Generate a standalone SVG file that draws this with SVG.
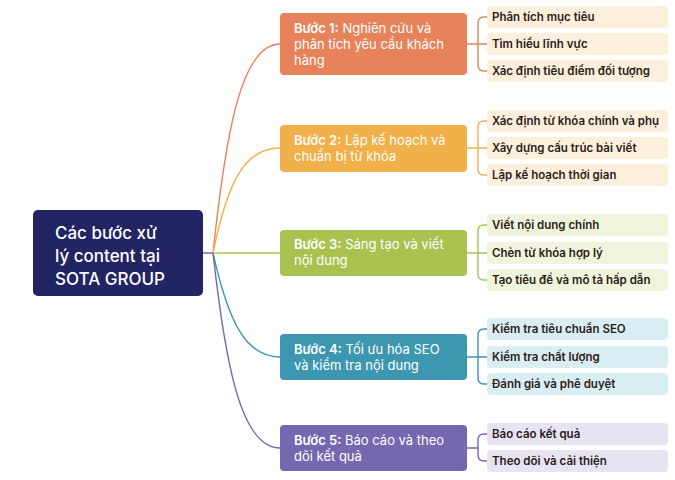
<svg xmlns="http://www.w3.org/2000/svg" width="675" height="480" viewBox="0 0 675 480">
<style>
text{font-family:"Inter","Liberation Sans",sans-serif}
.st{fill:#fff;font-size:13px}
.st tspan.b{font-weight:600}
.lf{fill:#2b2018;font-size:11.5px;font-weight:600}
.c{fill:none;stroke-width:1.4}
</style>
<rect width="675" height="480" fill="#fff"/>
<g id="connectors">
<path class="c" stroke="#6a62b5" d="M203 253H213"/>
<path class="c" stroke="#E8825B" d="M213 253C225 140 240 44 280 44"/>
<path class="c" stroke="#F2B04A" d="M213 253C228 180 245 148 280 148"/>
<path class="c" stroke="#A9C24F" d="M213 253H280"/>
<path class="c" stroke="#3D97B0" d="M213 253C228 320 245 357 280 357"/>
<path class="c" stroke="#7567B0" d="M213 253C225 360 240 448 280 448"/>
<path class="c" stroke="#E8825B" d="M467 44H478M487 17H484Q478 17 478 23V65Q478 71 484 71H487M478 44H487"/>
<path class="c" stroke="#F2B04A" d="M467 148H478M487 121H484Q478 121 478 127V169Q478 175 484 175H487M478 148H487"/>
<path class="c" stroke="#A9C24F" d="M467 253H478M487 225H484Q478 225 478 231V274Q478 280 484 280H487M478 253H487"/>
<path class="c" stroke="#3D97B0" d="M467 357H478M487 329H484Q478 329 478 335V378Q478 384 484 384H487M478 357H487"/>
<path class="c" stroke="#7567B0" d="M467 448H478M487 434H484Q478 434 478 440V455Q478 461 484 461H487"/>
</g>
<g id="root"><rect x="33" y="210" width="170" height="86" rx="5" fill="#232463"/>
<text fill="#fff" font-size="17" font-weight="500"><tspan x="55" y="239">Các bước xử</tspan><tspan x="55" y="262">lý content tại</tspan><tspan x="55" y="285">SOTA GROUP</tspan></text></g>
<g id="step1"><rect x="280" y="13" width="187" height="62" rx="4" fill="#E8825B"/>
<text class="st"><tspan x="294" y="33"><tspan class="b">Bước 1:</tspan> Nghiên cứu và</tspan><tspan x="294" y="49">phân tích yêu cầu khách</tspan><tspan x="294" y="65">hàng</tspan></text></g>
<g id="step2"><rect x="280" y="125" width="187" height="47" rx="4" fill="#F2B04A"/>
<text class="st"><tspan x="294" y="145"><tspan class="b">Bước 2:</tspan> Lập kế hoạch và</tspan><tspan x="294" y="161">chuẩn bị từ khóa</tspan></text></g>
<g id="step3"><rect x="280" y="230" width="187" height="46" rx="4" fill="#A9C24F"/>
<text class="st"><tspan x="294" y="249"><tspan class="b">Bước 3:</tspan> Sáng tạo và viết</tspan><tspan x="294" y="265">nội dung</tspan></text></g>
<g id="step4"><rect x="280" y="334" width="187" height="46" rx="4" fill="#3D97B0"/>
<text class="st"><tspan x="294" y="354"><tspan class="b">Bước 4:</tspan> Tối ưu hóa SEO</tspan><tspan x="294" y="370">và kiểm tra nội dung</tspan></text></g>
<g id="step5"><rect x="280" y="425" width="187" height="46" rx="4" fill="#7567B0"/>
<text class="st"><tspan x="294" y="445"><tspan class="b">Bước 5:</tspan>  Báo cáo và theo</tspan><tspan x="294" y="461">dõi kết quả</tspan></text></g>
<g id="leaves1" fill="#FCF0DC">
<rect x="487" y="6" width="181" height="22" rx="4"/><text class="lf" x="492" y="21">Phân tích mục tiêu</text>
<rect x="487" y="33" width="181" height="22" rx="4"/><text class="lf" x="492" y="48">Tìm hiểu lĩnh vực</text>
<rect x="487" y="60" width="181" height="22" rx="4"/><text class="lf" x="492" y="75">Xác định tiêu điểm đối tượng</text></g>
<g id="leaves2" fill="#FCF0DC">
<rect x="487" y="110" width="181" height="22" rx="4"/><text class="lf" x="492" y="125">Xác định từ khóa chính và phụ</text>
<rect x="487" y="137" width="181" height="22" rx="4"/><text class="lf" x="492" y="152">Xây dựng cấu trúc bài viết</text>
<rect x="487" y="164" width="181" height="22" rx="4"/><text class="lf" x="492" y="179">Lập kế hoạch thời gian</text></g>
<g id="leaves3" fill="#EFF4DC">
<rect x="487" y="214" width="181" height="22" rx="4"/><text class="lf" x="492" y="229">Viết nội dung chính</text>
<rect x="487" y="242" width="181" height="22" rx="4"/><text class="lf" x="492" y="257">Chèn từ khóa hợp lý</text>
<rect x="487" y="269" width="181" height="22" rx="4"/><text class="lf" x="492" y="284">Tạo tiêu đề và mô tả hấp dẫn</text></g>
<g id="leaves4" fill="#D9EEF2">
<rect x="487" y="318" width="181" height="22" rx="4"/><text class="lf" x="492" y="333">Kiểm tra tiêu chuẩn SEO</text>
<rect x="487" y="346" width="181" height="22" rx="4"/><text class="lf" x="492" y="361">Kiểm tra chất lượng</text>
<rect x="487" y="373" width="181" height="22" rx="4"/><text class="lf" x="492" y="388">Đánh giá và phê duyệt</text></g>
<g id="leaves5" fill="#E6E4F2">
<rect x="487" y="423" width="181" height="22" rx="4"/><text class="lf" x="492" y="438">Báo cáo kết quả</text>
<rect x="487" y="450" width="181" height="22" rx="4"/><text class="lf" x="492" y="465">Theo dõi và cải thiện</text></g>
</svg>
